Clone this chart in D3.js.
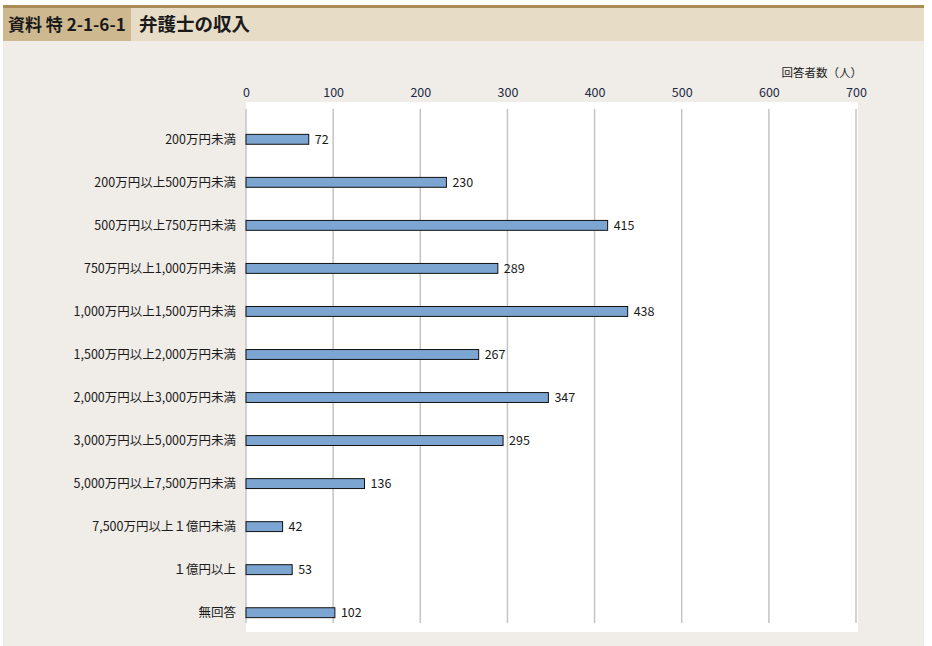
<!DOCTYPE html>
<html><head><meta charset="utf-8">
<script src="https://cdn.jsdelivr.net/npm/d3@7/dist/d3.min.js"></script>
<style>body{margin:0;background:#fff;}svg{display:block;font-family:"Noto Sans CJK JP","Noto Sans",sans-serif;}</style>
</head><body>
<svg id="c" width="932" height="646"></svg>
<script>
const categories = ["200万円未満","200万円以上500万円未満","500万円以上750万円未満","750万円以上1,000万円未満","1,000万円以上1,500万円未満","1,500万円以上2,000万円未満","2,000万円以上3,000万円未満","3,000万円以上5,000万円未満","5,000万円以上7,500万円未満","7,500万円以上１億円未満","１億円以上","無回答"];
const values = [72,230,415,289,438,267,347,295,136,42,53,102];
const tickValues = [0,100,200,300,400,500,600,700];
const titleLabel = "資料 特 2-1-6-1";
const titleText = "弁護士の収入";
const unitLabel = "回答者数（人）";

const svg = d3.select("#c");
// header
svg.append("rect").attr("x",3).attr("y",5).attr("width",921).attr("height",3).attr("fill","#a98b55");
svg.append("rect").attr("x",3).attr("y",8).attr("width",921).attr("height",33).attr("fill","#e7dcc6");
svg.append("rect").attr("x",3).attr("y",8).attr("width",128).attr("height",33).attr("fill","#ceb88f");
svg.append("text").attr("x",8).attr("y",31).attr("font-size",17).attr("font-weight","bold").attr("fill","#1a1a1a").text(titleLabel);
svg.append("text").attr("x",139).attr("y",31).attr("font-size",18.5).attr("font-weight","bold").attr("fill","#1a1a1a").text(titleText);
// panel background
svg.append("rect").attr("x",3).attr("y",41).attr("width",921).attr("height",605).attr("fill","#f0ece8");
// plot white area
svg.append("rect").attr("x",246).attr("y",102).attr("width",612).attr("height",530).attr("fill","#ffffff");

const x = d3.scaleLinear().domain([0,700]).range([246,856]);
const y = d3.scaleBand().domain(categories).range([118,634]).paddingInner(0.77).paddingOuter(0.38);

// grid
svg.append("g").selectAll("line").data(tickValues).join("line")
  .attr("x1",d=>x(d)).attr("x2",d=>x(d)).attr("y1",109).attr("y2",623)
  .attr("stroke","#c4c4c4").attr("stroke-width",1.5);

// top axis labels
const ax = svg.append("g").attr("transform","translate(0,97)")
  .call(d3.axisTop(x).tickValues(tickValues).tickSize(0).tickPadding(0));
ax.select(".domain").remove();
ax.selectAll("text").attr("font-size",12.5).attr("fill","#1c2b45").attr("font-family","'Noto Sans CJK JP','Noto Sans',sans-serif");

svg.append("text").attr("x",862).attr("y",77).attr("text-anchor","end").attr("font-size",11.5).attr("fill","#1a1a1a").text(unitLabel);

// bars
svg.append("g").selectAll("rect").data(values).join("rect")
  .attr("x",x(0)).attr("y",(d,i)=>y(categories[i]))
  .attr("width",d=>x(d)-x(0)).attr("height",y.bandwidth())
  .attr("fill","#7da5d2").attr("stroke","#111").attr("stroke-width",1);

// value labels
svg.append("g").selectAll("text").data(values).join("text")
  .attr("x",d=>x(d)+6).attr("y",(d,i)=>y(categories[i])+y.bandwidth()/2+4.5)
  .attr("font-size",12.5).attr("fill","#1a1a1a").text(d=>d);

// category labels
svg.append("g").selectAll("text").data(categories).join("text")
  .attr("x",236).attr("y",d=>y(d)+y.bandwidth()/2+4.5).attr("text-anchor","end")
  .attr("font-size",12.5).attr("fill","#1a1a1a").text(d=>d);
</script>
</body></html>
